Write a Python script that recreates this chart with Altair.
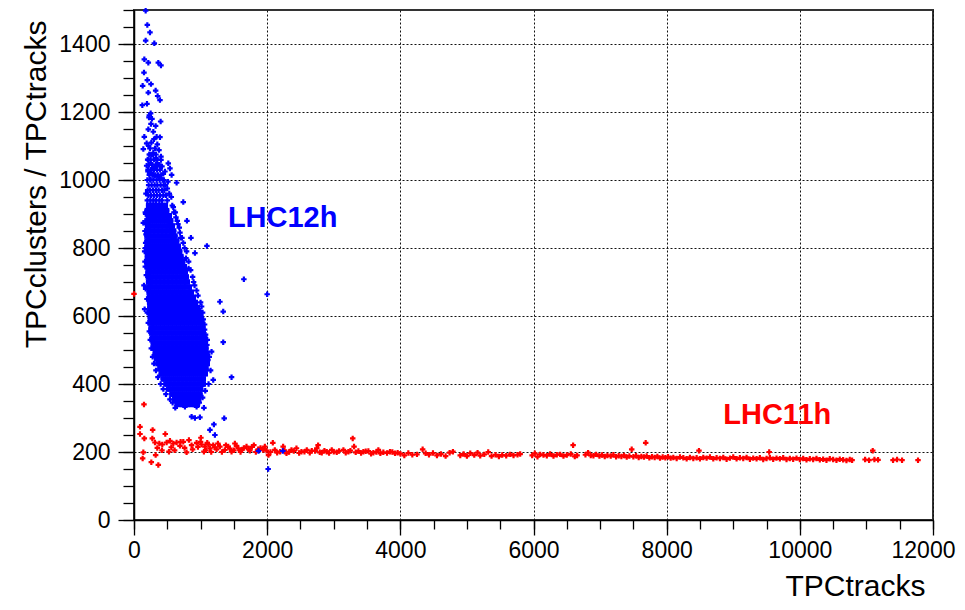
import altair as alt
import pandas as pd

# ---------------- data ----------------
# dense LHC12h cloud: rows of (ratio, [TPCtracks ...])
blue_rows = [
    (340, [650, 710, 770, 830, 890, 950]),
    (355, [610, 670, 730, 790, 850, 910, 970]),
    (370, [570, 630, 690, 750, 810, 870, 930, 990]),
    (385, [520, 580, 640, 700, 760, 820, 880, 940, 1000]),
    (400, [480, 540, 600, 660, 720, 780, 840, 900, 960, 1020, 1040]),
    (415, [440, 500, 560, 620, 680, 740, 800, 860, 920, 980, 1040]),
    (430, [410, 470, 530, 590, 650, 710, 770, 830, 890, 950, 1010, 1070]),
    (445, [390, 450, 510, 570, 630, 690, 750, 810, 870, 930, 990, 1050, 1080]),
    (460, [360, 420, 480, 540, 600, 660, 720, 780, 840, 900, 960, 1020, 1080, 1100]),
    (475, [340, 400, 460, 520, 580, 640, 700, 760, 820, 880, 940, 1000, 1060, 1100]),
    (490, [320, 380, 440, 500, 560, 620, 680, 740, 800, 860, 920, 980, 1040, 1095]),
    (505, [305, 360, 420, 480, 540, 600, 660, 720, 780, 840, 900, 960, 1020, 1080]),
    (520, [290, 350, 410, 470, 530, 590, 650, 710, 770, 830, 890, 950, 1010, 1070]),
    (535, [275, 330, 390, 450, 510, 570, 630, 690, 750, 810, 870, 930, 990, 1050, 1065]),
    (550, [265, 320, 380, 440, 500, 560, 620, 680, 740, 800, 860, 920, 980, 1040]),
    (565, [258, 310, 370, 430, 490, 550, 610, 670, 730, 790, 850, 910, 970, 1030]),
    (580, [250, 300, 360, 420, 480, 540, 600, 660, 720, 780, 840, 900, 960, 1020]),
    (595, [245, 290, 350, 410, 470, 530, 590, 650, 710, 770, 830, 890, 950, 1005]),
    (610, [240, 290, 340, 400, 460, 520, 580, 640, 700, 760, 820, 880, 940, 980]),
    (625, [238, 280, 340, 400, 460, 520, 580, 640, 700, 760, 820, 880, 950]),
    (640, [235, 290, 350, 410, 470, 530, 590, 650, 710, 770, 830, 890, 920]),
    (655, [232, 280, 340, 400, 460, 520, 580, 640, 700, 760, 820, 890]),
    (670, [228, 290, 350, 410, 470, 530, 590, 650, 710, 770, 830, 860]),
    (685, [224, 280, 340, 400, 460, 520, 580, 640, 700, 760, 830]),
    (700, [220, 270, 330, 390, 450, 510, 570, 630, 690, 750, 800]),
    (715, [216, 270, 330, 390, 450, 510, 570, 630, 690, 750, 785]),
    (730, [212, 260, 320, 380, 440, 500, 560, 620, 680, 740, 770]),
    (745, [208, 260, 320, 380, 440, 500, 560, 620, 680, 730, 755]),
    (760, [205, 250, 310, 370, 430, 490, 550, 610, 670, 730]),
    (775, [202, 250, 310, 370, 430, 490, 550, 610, 670, 705]),
    (790, [200, 250, 310, 370, 430, 490, 550, 610, 660, 685]),
    (805, [200, 250, 310, 370, 430, 490, 550, 610, 665]),
    (820, [197, 250, 310, 370, 430, 490, 550, 600, 640]),
    (835, [196, 240, 300, 360, 420, 480, 540, 590, 615]),
    (850, [195, 240, 300, 360, 420, 480, 540, 595]),
    (865, [205, 250, 310, 370, 430, 490, 540, 575]),
    (880, [195, 250, 310, 370, 430, 490, 550]),
    (895, [215, 260, 300, 360, 420, 480, 530]),
    (910, [200, 250, 310, 370, 430, 490]),
    (925, [220, 260, 300, 360, 420, 470]),
]

# scattered LHC12h points (TPCtracks, ratio)
blue_scatter = [
    # thinning top of the cloud
    (200, 940), (245, 940), (290, 940), (330, 940), (380, 940), (420, 940), (500, 940),
    (215, 955), (255, 955), (300, 955), (345, 955), (390, 955), (440, 955), (480, 955),
    (205, 970), (240, 970), (285, 970), (330, 970), (370, 970), (420, 970), (455, 970),
    (220, 985), (265, 985), (310, 985), (350, 985), (400, 985), (445, 985),
    (200, 1000), (250, 1000), (290, 1000), (340, 1000), (385, 1000), (430, 1000),
    (230, 1015), (275, 1015), (320, 1015), (360, 1015), (410, 1015),
    (210, 1030), (250, 1030), (300, 1030), (345, 1030), (390, 1030),
    (225, 1045), (270, 1045), (330, 1045), (380, 1045),
    (205, 1060), (250, 1060), (300, 1060), (350, 1060),
    (235, 1075), (285, 1075), (330, 1075),
    # sparse tail above
    (175, 1498), (200, 1456), (240, 1434), (175, 1410), (305, 1402), (155, 1355),
    (215, 1345), (365, 1345), (405, 1337), (150, 1316), (200, 1294), (255, 1282),
    (130, 1277), (215, 1257), (325, 1263), (355, 1247), (390, 1235), (125, 1220),
    (195, 1224), (250, 1196), (225, 1184), (400, 1172), (255, 1165), (325, 1159),
    (215, 1149), (290, 1142), (155, 1127), (340, 1127), (390, 1126), (190, 1108),
    (240, 1093), (140, 1091), (315, 1093), (375, 1088), (265, 1074), (405, 1069),
    (215, 1059), (405, 1059), (515, 1049), (190, 1042), (315, 1039), (540, 1034),
    (465, 1025), (565, 1015), (640, 992), (265, 1020), (365, 1010), (740, 935),
    (795, 880), (855, 830), (915, 785), (1095, 806), (1650, 708), (2000, 664),
    (230, 1190), (270, 1180), (300, 1120), (260, 1110), (220, 1100), (350, 1105),
    (290, 1080), (230, 1075), (330, 1062), (250, 1050), (280, 1035), (360, 1045),
    (420, 1040), (210, 1025), (310, 1012), (400, 1005), (450, 1000), (240, 1002),
    (470, 985), (500, 975), (530, 960), (560, 950), (510, 995), (440, 1018),
    (180, 960), (175, 900), (180, 840), (170, 800), (590, 920), (620, 905),
    (650, 880), (680, 860), (700, 830), (740, 815), (780, 770), (820, 740),
    # ragged left edge
    (170, 905), (180, 870), (165, 850), (175, 815), (160, 790), (170, 745),
    (185, 720), (175, 680), (195, 650), (200, 610), (215, 580), (230, 555),
    (245, 530), (260, 505), (280, 480), (300, 460), (330, 440), (360, 420),
    (400, 400), (440, 385), (480, 370), (540, 355), (580, 345), (620, 330),
    # ragged right edge
    (1110, 470), (1095, 515), (1075, 545), (1060, 575), (1030, 610), (1000, 640),
    (970, 620), (940, 675), (910, 690), (880, 715), (850, 735), (820, 760),
    (790, 790), (760, 800), (720, 830), (690, 845), (660, 870), (630, 890),
    (600, 905), (575, 925),
    # outliers
    (140, 874), (165, 760), (150, 690), (160, 620), (895, 700), (960, 660),
    (1015, 628), (1040, 590), (1060, 560), (1040, 549), (1100, 530), (1130, 480),
    (1165, 495), (1150, 440), (1190, 412), (1120, 400), (1070, 380), (1030, 360),
    (980, 345), (1050, 330), (765, 333), (940, 333), (865, 304), (990, 302),
    (915, 300), (1355, 299), (1200, 281), (1140, 265), (1215, 250), (1290, 642),
    (1340, 613), (1340, 523), (1465, 420), (2015, 150), (1870, 203), (2235, 203),
]

# LHC11h points (TPCtracks, ratio)
red_points = [
    (0, 665), (150, 340), (90, 274), (90, 253), (155, 240), (280, 265), (470, 253),
    (140, 199), (130, 181), (260, 170), (365, 162), (325, 191), (525, 201),
    (790, 199), (1050, 201), (1005, 242), (2020, 191), (2085, 227), (3285, 240),
    (2765, 220), (275, 240), (315, 228), (380, 225), (425, 222), (490, 228),
    (540, 233), (590, 225), (640, 228), (690, 218), (740, 230), (825, 235),
    (865, 220), (940, 227), (1015, 222), (1065, 216), (1100, 227), (1140, 211),
    (1190, 220), (1240, 208), (1290, 216), (1365, 206), (1415, 216), (1465, 201),
    (1515, 225), (1565, 211), (1615, 206), (1690, 216), (1740, 204), (1800, 220),
    (1865, 208), (1940, 206), (1965, 216), (2115, 206), (2195, 201), (2240, 216),
    (2290, 196), (2365, 206), (2440, 211), (2515, 201), (2595, 206), (2670, 204),
    (2745, 211), (2820, 198), (2895, 201), (2970, 206), (3045, 199), (3145, 206),
    (3220, 201), (3305, 216), (3370, 203), (3445, 201), (3520, 203), (3595, 198),
    (3670, 206), (3745, 199), (3845, 201), (3920, 196),
    (350, 212), (420, 205), (560, 214), (610, 205), (700, 230), (760, 212),
    (880, 208), (960, 215), (1000, 230), (1080, 205), (1120, 222), (1160, 200),
    (1210, 214), (1260, 225), (1320, 200), (1380, 220), (1440, 210), (1500, 205),
    (1540, 218), (1600, 200), (1650, 212), (1720, 208), (1770, 215), (1830, 200),
    (1900, 212), (1990, 204), (2050, 200), (2150, 198), (2260, 205), (2330, 200),
    (2400, 203), (2480, 197), (2560, 201), (2640, 198), (2720, 203), (2790, 199),
    (2860, 204), (2930, 197), (3000, 201), (3080, 203), (3180, 198), (3250, 204),
    (3330, 199), (3410, 197), (3480, 202), (3560, 195), (3640, 200), (3700, 196),
    (3800, 197), (3880, 200), (3960, 198),
    (4000, 195), (4060, 190), (4120, 197), (4180, 192), (4250, 193), (4335, 208),
    (4380, 196), (4430, 192), (4490, 197), (4550, 190), (4610, 194), (4680, 188),
    (4740, 198), (4790, 201), (4900, 190), (4950, 194), (5000, 188), (5050, 196),
    (5110, 191), (5160, 198), (5200, 189), (5260, 193), (5320, 200), (5370, 188),
    (5430, 192), (5480, 187), (5530, 191), (5590, 189), (5650, 193), (5700, 190),
    (5760, 192), (5800, 194), (5980, 190), (6020, 196), (6060, 186), (6100, 193),
    (6150, 191), (6200, 189), (6250, 194), (6300, 188), (6350, 192), (6400, 193),
    (6450, 188), (6500, 191), (6560, 194), (6595, 220), (6620, 187), (6655, 190),
    (6780, 192), (6820, 198), (6860, 190), (6900, 189), (6940, 193), (6990, 188),
    (7030, 191), (7070, 187), (7110, 190), (7160, 188), (7200, 192), (7240, 186),
    (7280, 189), (7320, 187), (7360, 190), (7400, 185), (7440, 188), (7475, 208),
    (7500, 186), (7540, 189), (7580, 184), (7620, 187), (7660, 185), (7685, 227),
    (7700, 188), (7740, 183), (7780, 186), (7820, 184), (7860, 187), (7900, 182),
    (7940, 185), (7980, 183), (8020, 186), (8060, 182), (8100, 184), (8150, 181),
    (8200, 185), (8250, 183), (8300, 180), (8350, 184), (8400, 181), (8485, 204),
    (8450, 183), (8500, 180), (8550, 184), (8600, 182), (8650, 185), (8700, 180),
    (8750, 183), (8800, 181), (8850, 184), (8900, 179), (8950, 182), (9000, 185),
    (9050, 180), (9100, 183), (9150, 181), (9200, 184), (9250, 179), (9300, 182),
    (9350, 180), (9400, 183), (9450, 178), (9500, 181), (9540, 200), (9550, 183),
    (9600, 179), (9650, 182), (9700, 180), (9750, 183), (9800, 178), (9850, 181),
    (9900, 179), (9950, 182), (10000, 178), (10050, 181), (10100, 177), (10150, 180),
    (10200, 178), (10250, 181), (10300, 177), (10350, 179), (10400, 176), (10450, 180),
    (10500, 178), (10550, 176), (10600, 179), (10650, 177), (10700, 175), (10750, 178),
    (10785, 176), (10980, 178), (11040, 176), (11095, 204), (11120, 178), (11175, 177),
    (11400, 176), (11460, 178), (11535, 176), (11775, 176),
]

labels_text = ["LHC12h", "LHC11h"]
labels_x = [1410, 8850]
labels_y = [888, 309]
labels_color = ["#0000ff", "#ff0000"]

x_major = [0, 2000, 4000, 6000, 8000, 10000, 12000]
y_major = [0, 200, 400, 600, 800, 1000, 1200, 1400]
x_minor = [0, 500, 1000, 1500, 2000, 2500, 3000, 3500, 4000, 4500, 5000, 5500, 6000,
           6500, 7000, 7500, 8000, 8500, 9000, 9500, 10000, 10500, 11000, 11500, 12000]
y_minor = [0, 50, 100, 150, 200, 250, 300, 350, 400, 450, 500, 550, 600, 650, 700,
           750, 800, 850, 900, 950, 1000, 1050, 1100, 1150, 1200, 1250, 1300, 1350,
           1400, 1450, 1500]

# ---------------- tables ----------------
core_df = pd.DataFrame([{"x": bx, "y": by} for by, xs in blue_rows for bx in xs])
scatter_df = pd.DataFrame([{"x": bx, "y": by} for bx, by in blue_scatter])
blue_df = pd.concat([core_df, scatter_df], ignore_index=True)
red_df = pd.DataFrame([{"x": rx, "y": ry} for rx, ry in red_points])
text_df = pd.DataFrame({"t": labels_text, "x": labels_x, "y": labels_y, "c": labels_color})

FONT = "Liberation Sans"
BLUE = "#0000ff"
RED = "#ff0000"
xscale = alt.Scale(domain=[0, 12000], nice=False, zero=False)
yscale = alt.Scale(domain=[0, 1500], nice=False, zero=False)

main_x_axis = alt.Axis(
    values=x_major, orient="bottom", format="d", labelFlush=False,
    labelOverlap=False, grid=True, gridDash=[2, 2], gridColor="#111",
    gridWidth=1, tickSize=15, tickWidth=1.3, tickColor="#000", domainColor="#000",
    domainWidth=1.5, labelFontSize=23, labelFont=FONT, labelColor="#000",
    labelPadding=4,
    labelOffset={"condition": {"test": "datum.value == 12000", "value": -10}, "value": 0},
    title="TPCtracks", titleFont=FONT, titleFontSize=30,
    titleFontWeight="normal", titleColor="#000", titleAlign="right",
    titleAnchor="end", titleX=791, titleY=75, titleBaseline="alphabetic",
)
main_y_axis = alt.Axis(
    values=y_major, orient="left", format="d", labelFlush=False,
    labelOverlap=False, grid=True, gridDash=[2, 2], gridColor="#111",
    gridWidth=1, tickSize=16, tickWidth=1.3, tickColor="#000", domainColor="#000",
    domainWidth=1.5, labelFontSize=23, labelFont=FONT, labelColor="#000",
    labelPadding=8, title="TPCclusters / TPCtracks", titleFont=FONT,
    titleFontSize=30, titleFontWeight="normal", titleColor="#000",
    titleAngle=270, titleAlign="right", titleX=-89, titleY=10,
    titleBaseline="alphabetic",
)
minor_x_axis = alt.Axis(
    values=x_minor, orient="bottom", grid=False, labels=False, domain=False,
    tickSize=9, tickWidth=1.3, tickColor="#000", title=None,
)
minor_y_axis = alt.Axis(
    values=y_minor, orient="left", grid=False, labels=False, domain=False,
    tickSize=11, tickWidth=1.3, tickColor="#000", title=None,
)

red_layer = alt.Chart(red_df).mark_point(
    shape="cross", filled=True, size=30, opacity=1, color=RED
).encode(
    x=alt.X("x:Q", scale=xscale, axis=minor_x_axis),
    y=alt.Y("y:Q", scale=yscale, axis=minor_y_axis),
)

# solid fill of the dense core (same points, square footprint) under the crosses
core_layer = alt.Chart(core_df).mark_point(
    shape="square", filled=True, size=30, opacity=1, color=BLUE
).encode(
    x=alt.X("x:Q", scale=xscale, axis=None),
    y=alt.Y("y:Q", scale=yscale, axis=None),
)

blue_layer = alt.Chart(blue_df).mark_point(
    shape="cross", filled=True, size=30, opacity=1, color=BLUE
).encode(
    x=alt.X("x:Q", scale=xscale, axis=main_x_axis),
    y=alt.Y("y:Q", scale=yscale, axis=main_y_axis),
)

text_layer = alt.Chart(text_df).mark_text(
    font=FONT, fontSize=29, fontWeight="bold", align="left", baseline="middle"
).encode(
    x=alt.X("x:Q", scale=xscale, axis=None),
    y=alt.Y("y:Q", scale=yscale, axis=None),
    text="t:N",
    color=alt.Color("c:N", scale=None),
)

chart = alt.layer(red_layer, core_layer, blue_layer, text_layer).resolve_axis(
    x="independent", y="independent"
).properties(
    width=799, height=510,
    autosize=alt.AutoSizeParams(type="none"),
    padding={"left": 126, "top": 2, "right": 24, "bottom": 82},
).configure_view(stroke="#333", strokeWidth=2)

chart.save("out.html", embed_options={"renderer": "svg", "actions": False})
